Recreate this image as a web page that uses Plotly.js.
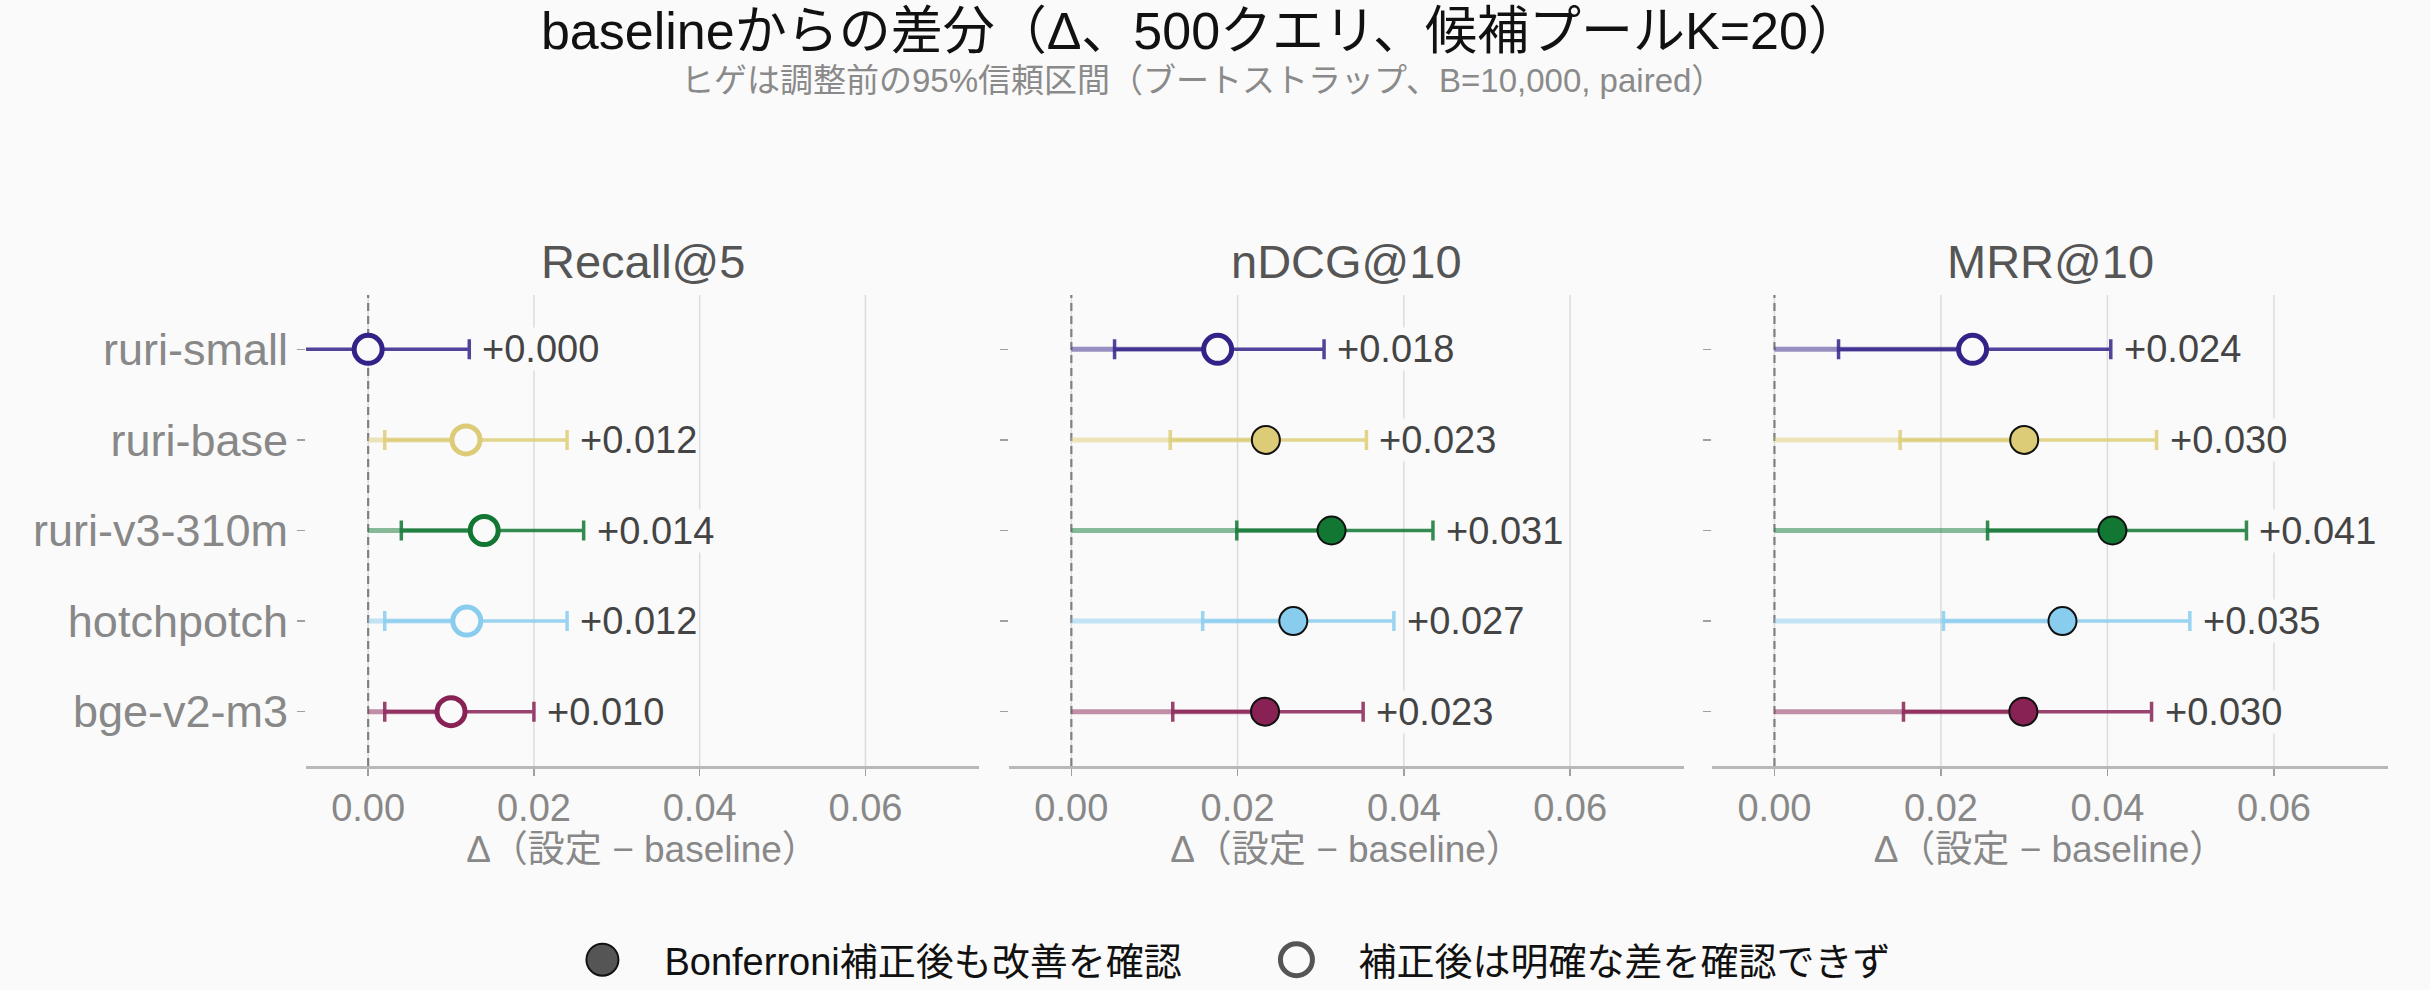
<!DOCTYPE html>
<html>
<head>
<meta charset="utf-8">
<script src="https://cdn.plot.ly/plotly-3.0.1.min.js"></script>
<style>html,body{margin:0;padding:0;background:#fafafa;}</style>
</head>
<body>
<div id="chart" style="width:2430px;height:990px;"></div>
<script>
// ---- data ----
const models = ['ruri-small', 'ruri-base', 'ruri-v3-310m', 'hotchpotch', 'bge-v2-m3'];
const modelColors = ['#332288', '#DDCC77', '#117733', '#88CCEE', '#882255'];
const metrics = ['Recall@5', 'nDCG@10', 'MRR@10'];
const xTicks = [0, 0.02, 0.04, 0.06];

const recallDelta = [0.0000, 0.0118, 0.0140, 0.0119, 0.0100];
const recallLo    = [-0.0080, 0.0020, 0.0040, 0.0020, 0.0020];
const recallHi    = [0.0122, 0.0240, 0.0260, 0.0240, 0.0200];
const recallSig   = [false, false, false, false, false];

const ndcgDelta = [0.0176, 0.0234, 0.0313, 0.0267, 0.0233];
const ndcgLo    = [0.0052, 0.0119, 0.0199, 0.0158, 0.0122];
const ndcgHi    = [0.0304, 0.0355, 0.0435, 0.0388, 0.0351];
const ndcgSig   = [false, true, true, true, true];

const mrrDelta = [0.0238, 0.0300, 0.0406, 0.0346, 0.0299];
const mrrLo    = [0.0077, 0.0151, 0.0256, 0.0203, 0.0155];
const mrrHi    = [0.0404, 0.0459, 0.0567, 0.0499, 0.0453];
const mrrSig   = [false, true, true, true, true];

const titleText = 'baselineからの差分（Δ、500クエリ、候補プールK=20）';
const subtitleText = 'ヒゲは調整前の95%信頼区間（ブートストラップ、B=10,000, paired）';
const xTitleText = 'Δ（設定 − baseline）';
const legendNames = ['Bonferroni補正後も改善を確認', '補正後は明確な差を確認できず'];

// ---- styling ----
const FONT = '"Liberation Sans", "Noto Sans CJK JP", sans-serif';
const BG = '#fafafa';
function rgba(hex, a) {
  const n = parseInt(hex.slice(1), 16);
  return 'rgba(' + ((n >> 16) & 255) + ',' + ((n >> 8) & 255) + ',' + (n & 255) + ',' + a + ')';
}
function fmt(v) { return (v >= 0 ? '+' : '') + v.toFixed(3); }

const panels = [
  {title: metrics[0], delta: recallDelta, lo: recallLo, hi: recallHi, sig: recallSig},
  {title: metrics[1], delta: ndcgDelta, lo: ndcgLo, hi: ndcgHi, sig: ndcgSig},
  {title: metrics[2], delta: mrrDelta, lo: mrrLo, hi: mrrHi, sig: mrrSig}
];
const W = 2430, H = 990;
const xDomPx = [[306, 979], [1009, 1684], [1712, 2388]];
const yDom = [1 - 766 / H, 1 - 295 / H];

const traces = [], annotations = [], shapes = [];
const layout = {
  width: W, height: H,
  paper_bgcolor: BG, plot_bgcolor: BG,
  margin: {l: 0, r: 0, t: 0, b: 0, autoexpand: false},
  font: {family: FONT, color: '#444'},
  title: {text: titleText, font: {family: FONT, size: 52, color: '#111'}, x: 0.494, xanchor: 'center', y: 1 - 31 / H, yanchor: 'middle'},
  showlegend: true,
  legend: {orientation: 'h', x: 0.508, xanchor: 'center', y: 1 - 960 / H, yanchor: 'middle',
           font: {family: FONT, size: 38, color: '#111'}, itemwidth: 114, entrywidth: 565,
           bgcolor: 'rgba(0,0,0,0)'},
  hovermode: false
};

panels.forEach((p, i) => {
  const sfx = i === 0 ? '' : String(i + 1);
  const xa = 'x' + sfx, ya = 'y' + sfx;
  const d = [xDomPx[i][0] / W, xDomPx[i][1] / W];
  layout['xaxis' + sfx] = {
    domain: d, anchor: ya, range: [-0.0075, 0.0737],
    tickmode: 'array', tickvals: xTicks, tickformat: '.2f',
    showgrid: false, zeroline: false,
    showline: true, linecolor: '#b8b8b8', linewidth: 2.5,
    ticks: 'outside', ticklen: 7, tickwidth: 1.5, tickcolor: '#a0a0a0',
    tickfont: {family: FONT, size: 38, color: '#888'},
    title: {text: xTitleText, font: {family: FONT, size: 37, color: '#888'}, standoff: 8},
    automargin: false, fixedrange: true
  };
  layout['yaxis' + sfx] = {
    domain: yDom, anchor: xa, type: 'category', categoryarray: models, categoryorder: 'array',
    range: [4.6, -0.6], showgrid: false, zeroline: false, showline: false,
    ticks: 'outside', ticklen: 8, tickwidth: 1.5, tickcolor: '#a0a0a0',
    showticklabels: i === 0, tickfont: {family: FONT, size: 45, color: '#888'},
    automargin: false, fixedrange: true
  };
  // vertical gridlines at the tick values (below traces)
  xTicks.forEach(t => {
    shapes.push({type: 'line', xref: xa, yref: ya + ' domain', x0: t, x1: t, y0: 0, y1: 1,
                 line: {color: '#dcdcdc', width: 1.5}, layer: 'below'});
  });
  // zero reference, drawn after the gridlines
  shapes.push({type: 'line', xref: xa, yref: ya + ' domain', x0: 0, x1: 0, y0: 0, y1: 1,
               line: {color: '#808080', width: 2.2, dash: '8px,5px'}, layer: 'below'});
  // light bar from 0 to estimate
  models.forEach((m, j) => {
    traces.push({type: 'scatter', mode: 'lines', x: [0, p.delta[j]], y: [m, m], xaxis: xa, yaxis: ya,
      line: {color: rgba(modelColors[j], 0.5), width: 5}, showlegend: false, hoverinfo: 'skip'});
  });
  // CI + point
  models.forEach((m, j) => {
    traces.push({type: 'scatter', mode: 'markers', x: [p.delta[j]], y: [m], xaxis: xa, yaxis: ya, name: m,
      error_x: {type: 'data', symmetric: false, array: [p.hi[j] - p.delta[j]], arrayminus: [p.delta[j] - p.lo[j]],
                color: rgba(modelColors[j], 0.85), thickness: 3.5, width: 10},
      marker: p.sig[j] ? {size: 28, color: modelColors[j], line: {color: '#111', width: 2}}
                       : {size: 28, color: BG, line: {color: modelColors[j], width: 5}},
      showlegend: false});
    annotations.push({xref: xa, yref: ya, x: p.hi[j], y: m, text: fmt(p.delta[j]), showarrow: false,
      xanchor: 'left', xshift: 12, font: {family: FONT, size: 38, color: '#444'}, bgcolor: BG, borderpad: 0});
  });
  annotations.push({xref: 'paper', yref: 'paper', x: (d[0] + d[1]) / 2, y: 1 - 290 / H, yanchor: 'bottom', xanchor: 'center',
    text: p.title, showarrow: false, font: {family: FONT, size: 47, color: '#555'}});
});

annotations.push({xref: 'paper', yref: 'paper', x: 0.495, y: 1 - 81 / H, yanchor: 'middle', xanchor: 'center',
  text: subtitleText, showarrow: false, font: {family: FONT, size: 33, color: '#8a8a8a'}});

// legend entries
traces.push({type: 'scatter', mode: 'markers', x: [null], y: [null], name: legendNames[0], showlegend: true,
  marker: {size: 16, color: '#555', line: {color: '#111', width: 1}}});
traces.push({type: 'scatter', mode: 'markers', x: [null], y: [null], name: legendNames[1], showlegend: true,
  marker: {size: 16, color: BG, line: {color: '#555', width: 2.5}}});

layout.annotations = annotations;
layout.shapes = shapes;

Plotly.newPlot('chart', traces, layout, {displayModeBar: false, staticPlot: true}).then(() => {
  document.querySelectorAll('.legend .legendpoints path.scatterpts').forEach(p => {
    const t = p.getAttribute('transform') || '';
    p.setAttribute('transform', t + ' scale(2)');
  });
});
</script>
</body>
</html>
